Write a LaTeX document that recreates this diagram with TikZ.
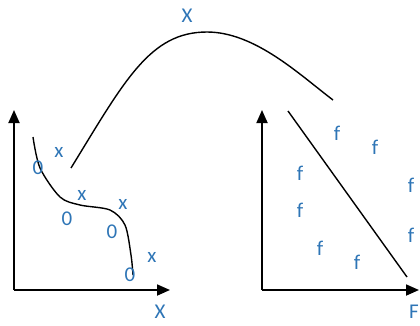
\documentclass[tikz,border=0pt]{standalone}
\usepackage{fontspec}
\setmainfont{Carlito}
\usetikzlibrary{arrows.meta}
\definecolor{lblblue}{HTML}{2E75B6}

\begin{document}
\begin{tikzpicture}[x=1pt,y=-1pt,
  axis/.style={line width=1.8pt,-{Triangle[width=11pt,length=13pt]}},
  curve/.style={line width=1.4pt},
  lbl/.style={text=lblblue,font=\fontsize{21}{21}\selectfont,inner sep=0pt}]
\useasboundingbox (0,0) rectangle (420,325);
% left plot
\coordinate (lo) at (14,290);
\coordinate (ly) at (14,110);
\coordinate (lx) at (170,290);
\draw[axis] (lo) -- (ly);
\draw[axis] (lo) -- (lx);
\node[lbl] (xaxis) at (160,312) {X};
\draw[curve] plot[smooth] coordinates {(33,137) (40,168) (60,197) (80,205) (110,210) (125,225) (131,255) (133,275)};
\node[lbl] (o1) at (38,168) {0};
\node[lbl] (o2) at (67,219) {0};
\node[lbl] (o3) at (112,232) {0};
\node[lbl] (o4) at (130,275) {0};
\node[lbl] (x1) at (59,152) {x};
\node[lbl] (x2) at (82,195) {x};
\node[lbl] (x3) at (123,204) {x};
\node[lbl] (x4) at (152,257) {x};
% mapping
\coordinate (arcstart) at (71,168);
\coordinate (arcend) at (333,100);
\draw[curve] (arcstart) .. controls (125,80) and (150,32) .. (207,32) .. controls (255,32) and (300,75) .. (arcend);
\node[lbl] (xtop) at (187,16) {X};
% right plot
\coordinate (ro) at (262,290);
\coordinate (ry) at (262,110);
\coordinate (rx) at (419,290);
\draw[axis] (ro) -- (ry);
\draw[axis] (ro) -- (rx);
\node[lbl] (faxis) at (414,312) {F};
\coordinate (dtop) at (288,111);
\coordinate (dbot) at (407,277);
\draw[curve] (dtop) -- (dbot);
\node[lbl] (f1) at (337,133) {f};
\node[lbl] (f2) at (375,147) {f};
\node[lbl] (f3) at (300,173) {f};
\node[lbl] (f4) at (300,210) {f};
\node[lbl] (f5) at (411,185) {f};
\node[lbl] (f6) at (411,235) {f};
\node[lbl] (f7) at (320,248) {f};
\node[lbl] (f8) at (357,262) {f};
\end{tikzpicture}
\end{document}
